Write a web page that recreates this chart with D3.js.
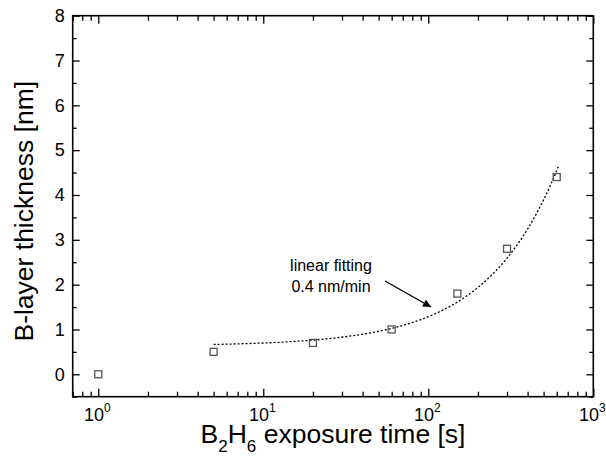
<!DOCTYPE html>
<html>
<head>
<meta charset="utf-8">
<script src="https://cdn.jsdelivr.net/npm/d3@7"></script>
<style>
  html, body { margin: 0; padding: 0; background: #fff; }
  svg { display: block; font-family: "Liberation Sans", Arial, sans-serif; }
</style>
</head>
<body>
<svg id="chart" width="606" height="466"></svg>
<script>
// ---- data ----
const exposureTime = [1, 5, 20, 60, 150, 300, 600];          // s
const thickness    = [0, 0.5, 0.7, 1.0, 1.8, 2.8, 4.4];       // nm
const fitRange     = [5, 600];                                 // s, range of linear fit
const xMajorTicks  = [1, 10, 100, 1000];
const xTickExps    = ["0", "1", "2", "3"];
const yMajorTicks  = [0, 1, 2, 3, 4, 5, 6, 7, 8];
const annotationLines = ["linear fitting", "0.4 nm/min"];

// ---- layout ----
const W = 606, H = 466;
const m = { left: 72.7, right: W - 593.3, top: 15.7, bottom: H - 396.7 };
const svg = d3.select("#chart");

const x = d3.scaleLog().domain([0.7, 1000]).range([m.left, W - m.right]);
const y = d3.scaleLinear().domain([-0.5, 8]).range([H - m.bottom, m.top]);

// minor ticks
const xMinor = [];
[0.1, 1, 10, 100].forEach(d => { for (let k = 2; k <= 9; k++) { const v = d * k; if (v >= 0.7 && v < 1000) xMinor.push(v); } });
const yMinor = d3.range(-0.5, 8, 1);

const axisStyle = g => {
  g.select(".domain").remove();
  g.selectAll("line").attr("stroke", "#000").attr("stroke-width", 1.3);
};

// bottom
svg.append("g").attr("transform", `translate(0,${y.range()[0]})`)
  .call(d3.axisBottom(x).tickValues(xMajorTicks).tickSizeInner(-8).tickSizeOuter(0).tickFormat(""))
  .call(axisStyle).selectAll("text").remove();
svg.append("g").attr("transform", `translate(0,${y.range()[0]})`)
  .call(d3.axisBottom(x).tickValues(xMinor).tickSizeInner(-5).tickSizeOuter(0).tickFormat(""))
  .call(axisStyle).selectAll("text").remove();
// top
svg.append("g").attr("transform", `translate(0,${m.top})`)
  .call(d3.axisTop(x).tickValues(xMajorTicks).tickSizeInner(-8).tickSizeOuter(0).tickFormat(""))
  .call(axisStyle).selectAll("text").remove();
svg.append("g").attr("transform", `translate(0,${m.top})`)
  .call(d3.axisTop(x).tickValues(xMinor).tickSizeInner(-5).tickSizeOuter(0).tickFormat(""))
  .call(axisStyle).selectAll("text").remove();
// left
const gl = svg.append("g").attr("transform", `translate(${m.left},0)`)
  .call(d3.axisLeft(y).tickValues(yMajorTicks).tickSizeInner(-7).tickSizeOuter(0).tickPadding(8).tickFormat(d3.format("d")))
  .call(axisStyle);
gl.selectAll("text").attr("font-size", 18).attr("fill", "#000")
  .attr("font-family", "'Liberation Sans', Arial, sans-serif");
svg.append("g").attr("transform", `translate(${m.left},0)`)
  .call(d3.axisLeft(y).tickValues(yMinor).tickSizeInner(-4).tickSizeOuter(0).tickFormat(""))
  .call(axisStyle).selectAll("text").remove();
// right
svg.append("g").attr("transform", `translate(${W - m.right},0)`)
  .call(d3.axisRight(y).tickValues(yMajorTicks).tickSizeInner(-7).tickSizeOuter(0).tickFormat(""))
  .call(axisStyle).selectAll("text").remove();
svg.append("g").attr("transform", `translate(${W - m.right},0)`)
  .call(d3.axisRight(y).tickValues(yMinor).tickSizeInner(-4).tickSizeOuter(0).tickFormat(""))
  .call(axisStyle).selectAll("text").remove();

// frame
svg.append("rect")
  .attr("x", m.left).attr("y", m.top)
  .attr("width", W - m.right - m.left).attr("height", H - m.bottom - m.top)
  .attr("fill", "none").attr("stroke", "#000").attr("stroke-width", 1.6);

// x tick labels 10^n
const xl = svg.append("g");
xMajorTicks.forEach((v, i) => {
  const t = xl.append("text")
    .attr("x", x(v) - 1).attr("y", 421)
    .attr("text-anchor", "middle").attr("font-size", 18).attr("fill", "#000");
  t.append("tspan").text("10");
  t.append("tspan").attr("font-size", 12).attr("dy", -9).text(xTickExps[i]);
});

// axis titles
const xt = svg.append("text")
  .attr("x", 333).attr("y", 443)
  .attr("text-anchor", "middle").attr("font-size", 26.5).attr("fill", "#000");
xt.append("tspan").text("B");
xt.append("tspan").attr("font-size", 17).attr("dy", 9).text("2");
xt.append("tspan").attr("dy", -9).text("H");
xt.append("tspan").attr("font-size", 17).attr("dy", 9).text("6");
xt.append("tspan").attr("dy", -9).text(" exposure time [s]");

svg.append("text")
  .attr("transform", `translate(33,${(m.top + H - m.bottom) / 2 + 5}) rotate(-90)`)
  .attr("text-anchor", "middle").attr("font-size", 26.5).attr("fill", "#000")
  .text("B-layer thickness [nm]");

// linear least-squares fit over the fit range
const fitPts = exposureTime.map((t, i) => [t, thickness[i]]).filter(p => p[0] >= fitRange[0] && p[0] <= fitRange[1]);
const mx = d3.mean(fitPts, p => p[0]), my = d3.mean(fitPts, p => p[1]);
const slope = d3.sum(fitPts, p => (p[0] - mx) * (p[1] - my)) / d3.sum(fitPts, p => (p[0] - mx) ** 2);
const intercept = my - slope * mx;
const fitX = d3.range(0, 101).map(k => Math.exp(Math.log(fitRange[0]) + (Math.log(fitRange[1] * 1.03) - Math.log(fitRange[0])) * k / 100));
svg.append("path")
  .datum(fitX)
  .attr("d", d3.line().x(d => x(d)).y(d => y(intercept + slope * d)))
  .attr("fill", "none").attr("stroke", "#000").attr("stroke-width", 1.3)
  .attr("stroke-dasharray", "2,2");

// data squares
const s = 7;
svg.append("g").selectAll("rect").data(exposureTime.map((t, i) => [t, thickness[i]])).join("rect")
  .attr("x", d => x(d[0]) - s / 2).attr("y", d => y(d[1]) - s / 2)
  .attr("width", s).attr("height", s)
  .attr("fill", "none").attr("stroke", "#555").attr("stroke-width", 1.3);

// annotation
const ann = svg.append("text").attr("text-anchor", "middle").attr("font-size", 16).attr("fill", "#000");
annotationLines.forEach((l, i) => ann.append("tspan").attr("x", 331).attr("y", 271 + i * 21).text(l));

svg.append("defs").append("marker")
  .attr("id", "ah").attr("viewBox", "0 0 10 10").attr("refX", 10).attr("refY", 5)
  .attr("markerWidth", 11).attr("markerHeight", 8).attr("markerUnits", "userSpaceOnUse")
  .attr("orient", "auto")
  .append("path").attr("d", "M0,0 L10,5 L0,10 Z").attr("fill", "#000");
svg.append("line")
  .attr("x1", 385).attr("y1", 281).attr("x2", 431).attr("y2", 307)
  .attr("stroke", "#000").attr("stroke-width", 1.4).attr("marker-end", "url(#ah)");
</script>
</body>
</html>
